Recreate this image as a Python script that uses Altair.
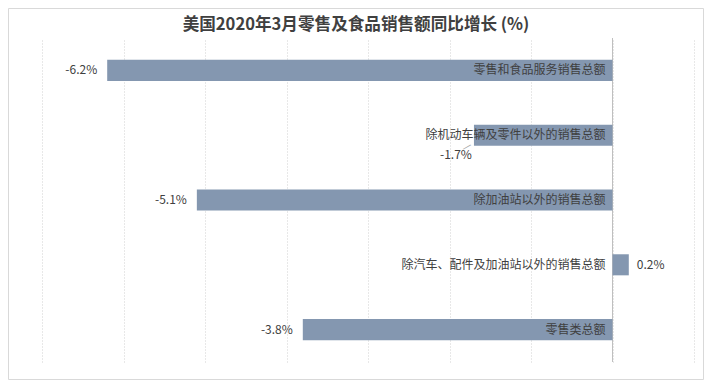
import altair as alt
import pandas as pd

categories = ["零售和食品服务销售总额", "除机动车辆及零件以外的销售总额", "除加油站以外的销售总额",
              "除汽车、配件及加油站以外的销售总额", "零售类总额"]
values = [-6.2, -1.7, -5.1, 0.2, -3.8]
grid_ticks = [-7, -6, -5, -4, -3, -2, -1, 0, 1]
title = "美国2020年3月零售及食品销售额同比增长 (%)"

df = pd.DataFrame({"cat": categories, "val": values})
df["lab"] = [f"{v:.1f}%" for v in values]
df["kind"] = ["neg", "moved", "neg", "pos", "neg"]

FONT = "Noto Sans CJK SC"
TXT = "#404040"
W, H = 652, 324

xs = alt.Scale(domain=[-7, 1], nice=False, zero=False)
ys = alt.Scale(domain=categories, paddingInner=0.675, paddingOuter=0.3375)

base = alt.Chart(df)

grid = base.mark_bar(opacity=0).encode(
    x=alt.X("val:Q", scale=xs,
            axis=alt.Axis(values=grid_ticks, grid=True, gridColor="#d0d0d0", gridDash=[1, 2],
                          gridWidth=1, labels=False, ticks=False, domain=False, title=None)),
    y=alt.Y("cat:N", scale=ys, axis=None),
)

bars = base.mark_bar(color="#8497B0").encode(
    x=alt.X("val:Q", scale=xs), x2=alt.datum(0),
    y=alt.Y("cat:N", scale=ys),
)

zero = alt.Chart(alt.Data(values=[{"z": 0}])).mark_rule(color="#bfbfbf", strokeWidth=1).encode(
    x=alt.X("z:Q", scale=xs), y=alt.value(0), y2=alt.value(H)
)

catlab = base.mark_text(align="right", baseline="middle", dx=-7, fontSize=12, font=FONT, color=TXT).encode(
    x=alt.datum(0), y=alt.Y("cat:N", scale=ys), text="cat:N"
)

neglab = base.transform_filter(alt.datum.kind == "neg").mark_text(
    align="right", baseline="middle", dx=-10, fontSize=12, font=FONT, color=TXT).encode(
    x=alt.X("val:Q", scale=xs), y=alt.Y("cat:N", scale=ys), text="lab:N"
)

poslab = base.transform_filter(alt.datum.kind == "pos").mark_text(
    align="left", baseline="middle", dx=8, fontSize=12, font=FONT, color=TXT).encode(
    x=alt.X("val:Q", scale=xs), y=alt.Y("cat:N", scale=ys), text="lab:N"
)

movedlab = base.transform_filter(alt.datum.kind == "moved").mark_text(
    align="center", baseline="middle", dx=-18, dy=20, fontSize=12, font=FONT, color=TXT).encode(
    x=alt.X("val:Q", scale=xs), y=alt.Y("cat:N", scale=ys), text="lab:N"
)

leader = base.transform_filter(alt.datum.kind == "moved").mark_text(
    align="center", baseline="middle", dx=-12, dy=7, fontSize=11, font=FONT, color="#a6a6a6", angle=330).encode(
    x=alt.X("val:Q", scale=xs), y=alt.Y("cat:N", scale=ys), text=alt.value("—")
)

titlemark = alt.Chart(alt.Data(values=[{"t": title}])).mark_text(
    align="center", baseline="middle", fontSize=16.6, fontWeight="bold", font=FONT, color=TXT).encode(
    x=alt.value(W / 2 - 12), y=alt.value(-13), text="t:N"
)

border = alt.Chart(alt.Data(values=[{"a": 1}])).mark_rect(fill="transparent", stroke="#d9d9d9", strokeWidth=1).encode(
    x=alt.value(-33.5), x2=alt.value(W + 9.5), y=alt.value(-29.5), y2=alt.value(H + 17.5)
)

chart = alt.layer(grid, zero, bars, catlab, neglab, poslab, movedlab, leader, titlemark, border).properties(
    width=W, height=H,
    autosize=alt.AutoSizeParams(type="none"),
    padding={"left": 34, "right": 10, "top": 30, "bottom": 18},
    background="white",
).configure_view(stroke=None)

chart.save("out.html", embed_options={"renderer": "svg", "actions": False})
